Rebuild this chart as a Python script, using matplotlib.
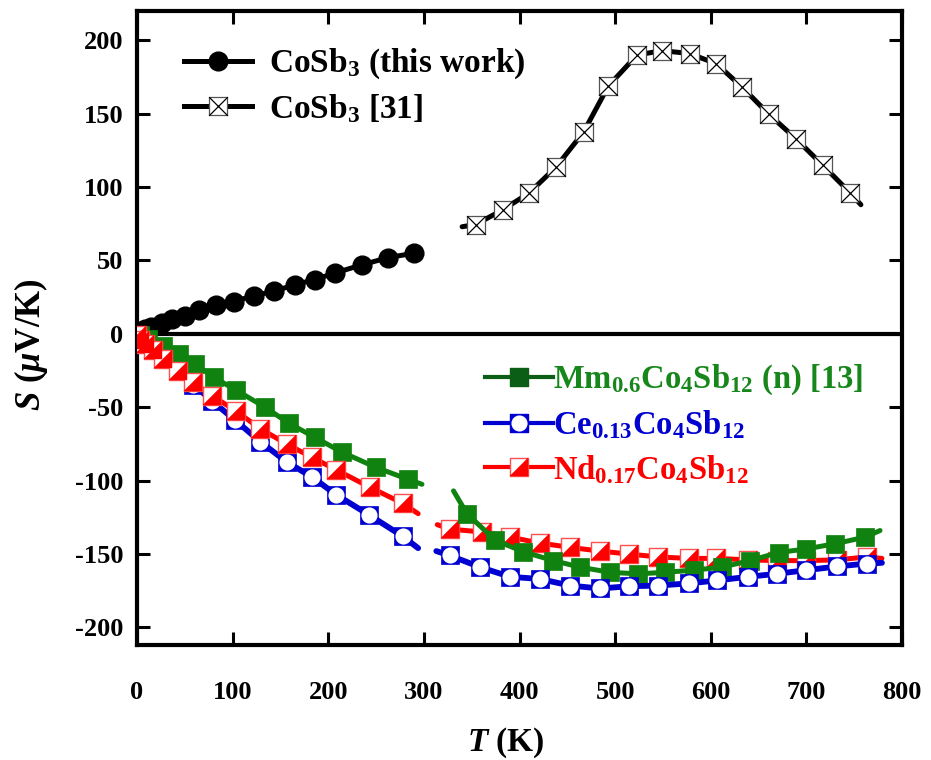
import matplotlib
matplotlib.use("Agg")
import matplotlib.pyplot as plt
from matplotlib.path import Path
from matplotlib.lines import Line2D

plt.rcParams.update({
    "font.family": ["Liberation Serif", "DejaVu Serif"],
    "font.weight": "bold",
    "axes.labelweight": "bold",
    "mathtext.fontset": "custom",
    "mathtext.rm": "Liberation Serif:bold",
    "mathtext.it": "Liberation Serif:bold:italic",
    "mathtext.bf": "Liberation Serif:bold",
    "mathtext.default": "rm",
    "axes.unicode_minus": False,
})

# ---------------- data ----------------
# CoSb3 (this work)
cosb3_T = [3, 8, 15, 26, 37, 50, 65, 83, 101, 122, 143, 165, 186, 207, 235, 263, 290]
cosb3_S = [1, 3, 5, 7.5, 10, 12.5, 16, 19.5, 22, 26, 29, 33.5, 37, 41.5, 47, 52, 55]

# CoSb3 [31]
ref31_T = [354, 382.5, 410, 438, 467, 493, 523, 549, 578, 606, 633, 661, 689, 717, 746]
ref31_S = [74.5, 84.5, 96, 113.5, 137.5, 169, 190, 193, 191, 184, 168, 149.5, 133, 115, 96]
ref31_curve_T = [340] + ref31_T + [757]
ref31_curve_S = [73] + ref31_S + [88]

# Mm0.6Co4Sb12 (n) [13]
mm_T_low = [3, 12, 27.5, 44, 61, 80, 104, 134, 159, 186, 214, 250, 283]
mm_S_low = [-1, -3.5, -8, -13.5, -20.5, -29.5, -38.5, -50, -61, -70.5, -80.5, -91, -99]
mm_curve_T_low = mm_T_low + [298]
mm_curve_S_low = mm_S_low + [-102.5]
mm_T_high = [345, 374.5, 404, 435.5, 463.5, 495, 524, 552, 582, 611.5, 641, 671, 700, 730, 761.5]
mm_S_high = [-122.5, -140.5, -148.5, -154.5, -159, -162.5, -163.5, -162.5, -161, -159,
             -154.5, -149, -146.5, -143, -138.5]
mm_curve_T_high = [331] + mm_T_high + [777]
mm_curve_S_high = [-107] + mm_S_high + [-134]

# Ce0.13Co4Sb12
ce_T_low = [3, 8, 17, 27.5, 42.5, 59, 78, 103, 129, 157, 183, 208, 243, 278]
ce_S_low = [-2.5, -6, -11, -17, -25.5, -34.5, -45.5, -59, -73.5, -87.5, -97.5, -109.5, -123.5, -138]
ce_curve_T_low = ce_T_low + [294]
ce_curve_S_low = ce_S_low + [-146]
ce_T_high = [327, 359, 390, 421, 453, 484, 514, 545, 577, 607, 639, 669, 700, 732, 763]
ce_S_high = [-151, -159, -165.5, -167, -171.5, -173.5, -172, -171.5, -170, -168,
             -165.5, -163.5, -161, -158.5, -156.5]
ce_curve_T_high = [313] + ce_T_high + [779]
ce_curve_S_high = [-148] + ce_S_high + [-156]

# Nd0.17Co4Sb12
nd_T_low = [0, 3, 8, 17, 27.5, 42.5, 59, 78, 103.5, 128.5, 156.5, 182.5, 208, 243.5, 278]
nd_S_low = [-1, -4.5, -7, -11, -17, -25, -33, -42, -52.5, -64.5, -75, -84, -92.5, -104.5, -115.5]
nd_curve_T_low = nd_T_low + [294]
nd_curve_S_low = nd_S_low + [-122.5]
nd_T_high = [327, 360.5, 390, 421, 453, 484, 514, 545, 577, 606, 639, 669, 700, 732, 763]
nd_S_high = [-133, -135, -138.5, -142.5, -145.5, -148, -150, -152, -153, -153,
             -154, -154.5, -154.5, -154, -152]
nd_curve_T_high = [314] + nd_T_high + [779]
nd_curve_S_high = [-130] + nd_S_high + [-153]

x_ticks = [0, 100, 200, 300, 400, 500, 600, 700, 800]
y_ticks = [200, 150, 100, 50, 0, -50, -100, -150, -200]

GREEN = "#108210"
GREEN_TXT = "#17871c"
LEG_GREEN = "#0b5e16"
BLUE = "#0000d0"
RED = "#ff0000"

# ---------------- marker shapes ----------------
SQUARE = Path([(-1, -1), (1, -1), (1, 1), (-1, 1), (-1, -1)],
              [Path.MOVETO, Path.LINETO, Path.LINETO, Path.LINETO, Path.CLOSEPOLY])
CROSS = Path([(-1, -1), (1, 1), (-1, 1), (1, -1)],
             [Path.MOVETO, Path.LINETO, Path.MOVETO, Path.LINETO])
LOWER_RIGHT = Path([(1, 1), (1, -1), (-1, -1), (1, 1)],
                   [Path.MOVETO, Path.LINETO, Path.LINETO, Path.CLOSEPOLY])

MS = 13.5

def curve(ax, T, S, color, lw, z):
    ax.plot(T, S, color=color, lw=lw, solid_capstyle="round", zorder=z)

def pts_square_x(ax, T, S, z):
    ax.plot(T, S, ls="none", marker=SQUARE, ms=MS, mfc="white", mec="#555555", mew=0.9, zorder=z)
    ax.plot(T, S, ls="none", marker=CROSS, ms=MS, mfc="none", mec="black", mew=0.9, zorder=z)

def pts_green(ax, T, S, z):
    ax.plot(T, S, ls="none", marker=SQUARE, ms=MS, mfc=GREEN, mec=GREEN, mew=0.5, zorder=z)

def pts_blue(ax, T, S, z):
    ax.plot(T, S, ls="none", marker=SQUARE, ms=MS, mfc=BLUE, mec=BLUE, mew=0.5, zorder=z)
    ax.plot(T, S, ls="none", marker="o", ms=MS * 0.86, mfc="white", mec="white", mew=0, zorder=z)

def pts_red(ax, T, S, z):
    ax.plot(T, S, ls="none", marker=SQUARE, ms=MS, mfc="white", mec="#ff5050", mew=1.0, zorder=z)
    ax.plot(T, S, ls="none", marker=LOWER_RIGHT, ms=MS, mfc=RED, mec=RED, mew=0.3, zorder=z)

# ---------------- figure ----------------
W, H = 931, 760
fig = plt.figure(figsize=(W / 100, H / 100), dpi=100)
ax = fig.add_axes([137 / W, 1 - 645 / H, 765 / W, 634 / H])
ax.set_xlim(0, 800)
ax.set_ylim(-212, 220)

ax.axhline(0, color="black", lw=3.0, zorder=2)

# CoSb3 series
curve(ax, cosb3_T, cosb3_S, "black", 3.6, 3)
ax.plot(cosb3_T, cosb3_S, ls="none", marker="o", ms=13.5, mfc="black", mec="black", zorder=3)
curve(ax, ref31_curve_T, ref31_curve_S, "black", 3.6, 3)
pts_square_x(ax, ref31_T, ref31_S, 4)

# n-type fillings, below room temperature
curve(ax, ce_curve_T_low, ce_curve_S_low, BLUE, 4.2, 5)
pts_blue(ax, ce_T_low, ce_S_low, 5)
curve(ax, mm_curve_T_low, mm_curve_S_low, GREEN, 3.6, 6)
pts_green(ax, mm_T_low, mm_S_low, 6)
curve(ax, nd_curve_T_low, nd_curve_S_low, RED, 3.6, 7)
pts_red(ax, nd_T_low, nd_S_low, 7)

# n-type fillings, above room temperature
curve(ax, nd_curve_T_high, nd_curve_S_high, RED, 3.6, 5)
pts_red(ax, nd_T_high, nd_S_high, 5)
curve(ax, mm_curve_T_high, mm_curve_S_high, GREEN, 3.6, 6)
pts_green(ax, mm_T_high, mm_S_high, 6)
curve(ax, ce_curve_T_high, ce_curve_S_high, BLUE, 4.2, 7)
pts_blue(ax, ce_T_high, ce_S_high, 7)

# ---------------- axes styling ----------------
for sp in ax.spines.values():
    sp.set_linewidth(3.0)
ax.set_xticks(x_ticks)
ax.set_xticklabels([str(v) for v in x_ticks])
ax.set_yticks(y_ticks)
ax.set_yticklabels([str(v) for v in y_ticks])
ax.tick_params(axis="both", which="major", direction="in", length=9.5, width=2.2,
               top=True, right=True, labelsize=19)
ax.tick_params(axis="x", pad=26)
ax.tick_params(axis="y", pad=10)

ax.set_xlabel(r"$\mathit{T}$ (K)", fontsize=24)
ax.xaxis.set_label_coords((506 - 137) / 765, -(743 - 645) / 634)
ax.xaxis.label.set_verticalalignment("center")
ax.set_ylabel(r"$\mathit{S}$ ($\mathit{\mu}$V/K)", fontsize=25)
ax.yaxis.set_label_coords((31 - 137) / 765, (645 - 345) / 634)
ax.yaxis.label.set_verticalalignment("center")

# ---------------- legends ----------------
h_cosb3 = Line2D([], [], color="black", lw=3.6, marker="o", ms=13.5, mfc="black", mec="black")
h_ref31 = (Line2D([], [], color="black", lw=3.6, marker=SQUARE, ms=MS, mfc="white", mec="#555555", mew=0.9),
           Line2D([], [], ls="none", marker=CROSS, ms=MS, mfc="none", mec="black", mew=0.9))
leg1 = ax.legend([h_cosb3, h_ref31], ["CoSb$_3$ (this work)", "CoSb$_3$ [31]"],
                 loc="upper left", bbox_to_anchor=((184 - 137) / 765, (645 - 47) / 634),
                 frameon=False, fontsize=24, handlelength=2.04, handletextpad=0.5,
                 borderpad=0, borderaxespad=0, labelspacing=0.32, numpoints=1)
ax.add_artist(leg1)

h_mm = Line2D([], [], color=LEG_GREEN, lw=3.0, marker=SQUARE, ms=MS, mfc=LEG_GREEN, mec=LEG_GREEN)
h_ce = (Line2D([], [], color=BLUE, lw=3.0, marker=SQUARE, ms=MS, mfc=BLUE, mec=BLUE),
        Line2D([], [], ls="none", marker="o", ms=MS * 0.86, mfc="white", mec="white", mew=0))
h_nd = (Line2D([], [], color=RED, lw=3.0, marker=SQUARE, ms=MS, mfc="white", mec="#ff5050", mew=1.0),
        Line2D([], [], ls="none", marker=LOWER_RIGHT, ms=MS, mfc=RED, mec=RED, mew=0.3))
leg2 = ax.legend([h_mm, h_ce, h_nd],
                 ["Mm$_{0.6}$Co$_4$Sb$_{12}$ (n) [13]", "Ce$_{0.13}$Co$_4$Sb$_{12}$",
                  "Nd$_{0.17}$Co$_4$Sb$_{12}$"],
                 labelcolor=[GREEN_TXT, BLUE, RED],
                 loc="upper left", bbox_to_anchor=((485 - 137) / 765, (645 - 363) / 634),
                 frameon=False, fontsize=23.5, handlelength=2.08, handletextpad=0.0,
                 borderpad=0, borderaxespad=0, labelspacing=0.35, numpoints=1)

fig.savefig("out.png", dpi=100)
